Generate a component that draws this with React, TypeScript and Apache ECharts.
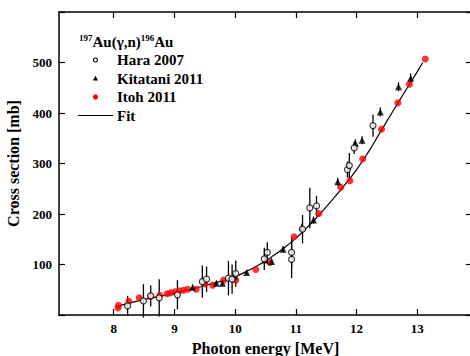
import React, { useEffect, useRef } from "react";
import * as echarts from "echarts";

// Hara 2007: [energy MeV, cross section mb, error mb]
const haraData = [
  [8.23, 18, 20], [8.49, 28, 33], [8.61, 38, 21], [8.75, 34, 37], [9.05, 40, 29],
  [9.46, 66, 32], [9.53, 71, 25], [9.89, 73, 34], [9.95, 71, 29], [10.01, 82, 26],
  [10.48, 111, 22], [10.53, 124, 20], [10.93, 124, 30], [10.93, 110, 37], [11.11, 170, 28],
  [11.23, 212, 40], [11.34, 216, 20], [11.85, 288, 16], [11.88, 296, 25], [11.96, 331, 12],
  [12.27, 375, 22],
];
// Kitatani 2011: [energy, cross section, error]
const kitataniData = [
  [9.30, 55, 5], [9.69, 63, 5], [9.79, 63, 6], [9.99, 77, 6], [10.19, 84, 5],
  [10.50, 109, 6], [10.60, 106, 6], [10.79, 130, 6], [11.10, 174, 7], [11.29, 188, 7],
  [11.69, 264, 8], [11.98, 340, 8], [12.09, 346, 8], [12.39, 402, 9], [12.69, 452, 9],
  [12.89, 469, 9],
];
// Itoh 2011: [energy, cross section]
const itohData = [
  [8.07, 14], [8.08, 19], [8.25, 27], [8.42, 34], [8.61, 37], [8.76, 39], [8.88, 42],
  [8.94, 44], [9.01, 46], [9.08, 48], [9.15, 49], [9.22, 51], [9.36, 51], [9.50, 62],
  [9.63, 59], [9.81, 69], [10.01, 69], [10.34, 90], [10.57, 104], [10.97, 155],
  [11.38, 201], [11.74, 253], [11.89, 266], [12.10, 309], [12.41, 368], [12.68, 420],
  [12.87, 457], [13.13, 507],
];
// Fit curve
const fitData = [
  [8.05, 17], [8.3, 25], [8.6, 33], [9.0, 43], [9.4, 55], [9.8, 68], [10.0, 76],
  [10.2, 87], [10.4, 100], [10.6, 115], [10.8, 132], [11.0, 152], [11.2, 175],
  [11.4, 201], [11.6, 228], [11.8, 257], [12.0, 288], [12.2, 324], [12.4, 364],
  [12.6, 404], [12.8, 443], [13.0, 482], [13.09, 500],
];
const xTicks = [8, 9, 10, 11, 12, 13];
const legendNames = ["Hara 2007", "Kitatani 2011", "Itoh 2011", "Fit"];

const FONT = "'Liberation Serif', 'Times New Roman', serif";

function errorRender(color: string, width: number) {
  return (params: any, api: any) => {
    const x = api.value(0);
    const y = api.value(1);
    const e = api.value(2);
    const p1 = api.coord([x, y - e]);
    const p2 = api.coord([x, y + e]);
    return {
      type: "line",
      shape: { x1: p1[0], y1: p1[1], x2: p2[0], y2: p2[1] },
      style: { stroke: color, lineWidth: width },
    };
  };
}

export default function App() {
  const ref = useRef<HTMLDivElement>(null);
  useEffect(() => {
    const chart = echarts.init(ref.current!, null, { renderer: "svg" });
    const axisLine = { show: true, onZero: false, lineStyle: { color: "#000", width: 1.5 } };
    const tick = { show: true, inside: true, length: 6, lineStyle: { color: "#000", width: 1.2 } };
    const textStyle = { fontFamily: FONT, fontWeight: "bold", fontSize: 15, fill: "#000" };
    const rowY = [60, 78.5, 97, 115.5];
    const symX = 95.5;
    const textX = 117;
    const legendGraphics: any[] = [
      { type: "circle", shape: { cx: symX, cy: rowY[0], r: 2 }, style: { fill: "#fff", stroke: "#000", lineWidth: 1.1 } },
      { type: "polygon", shape: { points: [[symX, rowY[1] - 2.8], [symX - 2.6, rowY[1] + 2], [symX + 2.6, rowY[1] + 2]] }, style: { fill: "#000" } },
      { type: "circle", shape: { cx: symX, cy: rowY[2], r: 2.6 }, style: { fill: "#ff0000" } },
      { type: "line", shape: { x1: 78, y1: rowY[3], x2: 113, y2: rowY[3] }, style: { stroke: "#000", lineWidth: 1.2 } },
      ...legendNames.map((n, i) => ({
        type: "text",
        x: textX,
        y: rowY[i],
        style: { ...textStyle, text: n, verticalAlign: "middle", align: "left" },
      })),
      {
        type: "text",
        x: 79,
        y: 42,
        style: {
          text: "{sup|197}{m|Au(γ,n)}{sup|196}{m|Au}",
          verticalAlign: "middle",
          rich: {
            sup: { fontFamily: FONT, fontWeight: "bold", fontSize: 9, fill: "#000", padding: [0, 0, 8, 0] },
            m: { fontFamily: FONT, fontWeight: "bold", fontSize: 15, fill: "#000" },
          },
        },
      },
    ];
    chart.setOption({
      animation: false,
      grid: { left: 59, top: 12, width: 413, height: 303, outerBoundsMode: "none", containLabel: false },
      graphic: legendGraphics,
      xAxis: [
        {
          type: "value",
          min: 7.1,
          max: 13.9,
          name: "Photon energy [MeV]",
          nameLocation: "middle",
          nameGap: 25,
          nameTextStyle: { fontFamily: FONT, fontWeight: "bold", fontSize: 16, color: "#000" },
          axisLine,
          axisTick: { ...tick, customValues: xTicks },
          axisLabel: { customValues: xTicks, fontFamily: FONT, fontWeight: "bold", fontSize: 13, color: "#000", margin: 7 },
          splitLine: { show: false },
        },
        {
          type: "value",
          position: "top",
          min: 7.1,
          max: 13.9,
          axisLine,
          axisTick: { ...tick, customValues: xTicks },
          axisLabel: { show: false },
          splitLine: { show: false },
        },
      ],
      yAxis: [
        {
          type: "value",
          min: 0,
          max: 600,
          interval: 100,
          name: "Cross section [mb]",
          nameLocation: "middle",
          nameGap: 24,
          nameTextStyle: { fontFamily: FONT, fontWeight: "bold", fontSize: 16, color: "#000" },
          axisLine,
          axisTick: tick,
          axisLabel: {
            fontFamily: FONT,
            fontWeight: "bold",
            fontSize: 13,
            color: "#000",
            margin: 7,
            formatter: (v: number) => (v === 0 || v === 600 ? "" : String(v)),
          },
          splitLine: { show: false },
        },
        {
          type: "value",
          position: "right",
          min: 0,
          max: 600,
          interval: 100,
          axisLine,
          axisTick: tick,
          axisLabel: { show: false },
          splitLine: { show: false },
        },
      ],
      series: [
        {
          name: "Fit",
          type: "line",
          data: fitData,
          smooth: true,
          symbol: "none",
          lineStyle: { color: "#000", width: 1.2 },
          z: 1,
        },
        {
          name: "Hara err",
          type: "custom",
          data: haraData,
          renderItem: errorRender("#000", 1.3),
          z: 2,
        },
        {
          name: "Kitatani err",
          type: "custom",
          data: kitataniData,
          renderItem: errorRender("#000", 1.2),
          z: 2,
        },
        {
          name: "Itoh 2011",
          type: "scatter",
          data: itohData,
          symbol: "circle",
          symbolSize: 7,
          itemStyle: { color: "#ff0000" },
          z: 3,
        },
        {
          name: "Kitatani 2011",
          type: "scatter",
          data: kitataniData.map((d) => [d[0], d[1]]),
          symbol: "triangle",
          symbolSize: 7,
          itemStyle: { color: "#000" },
          z: 4,
        },
        {
          name: "Hara 2007",
          type: "scatter",
          data: haraData.map((d) => [d[0], d[1]]),
          symbol: "circle",
          symbolSize: 6,
          itemStyle: { color: "#fff", borderColor: "#000", borderWidth: 1.2 },
          z: 5,
        },
      ],
    });
    return () => chart.dispose();
  }, []);
  return <div ref={ref} style={{ position: "absolute", left: 0, top: 0, width: 470, height: 356 }} />;
}
